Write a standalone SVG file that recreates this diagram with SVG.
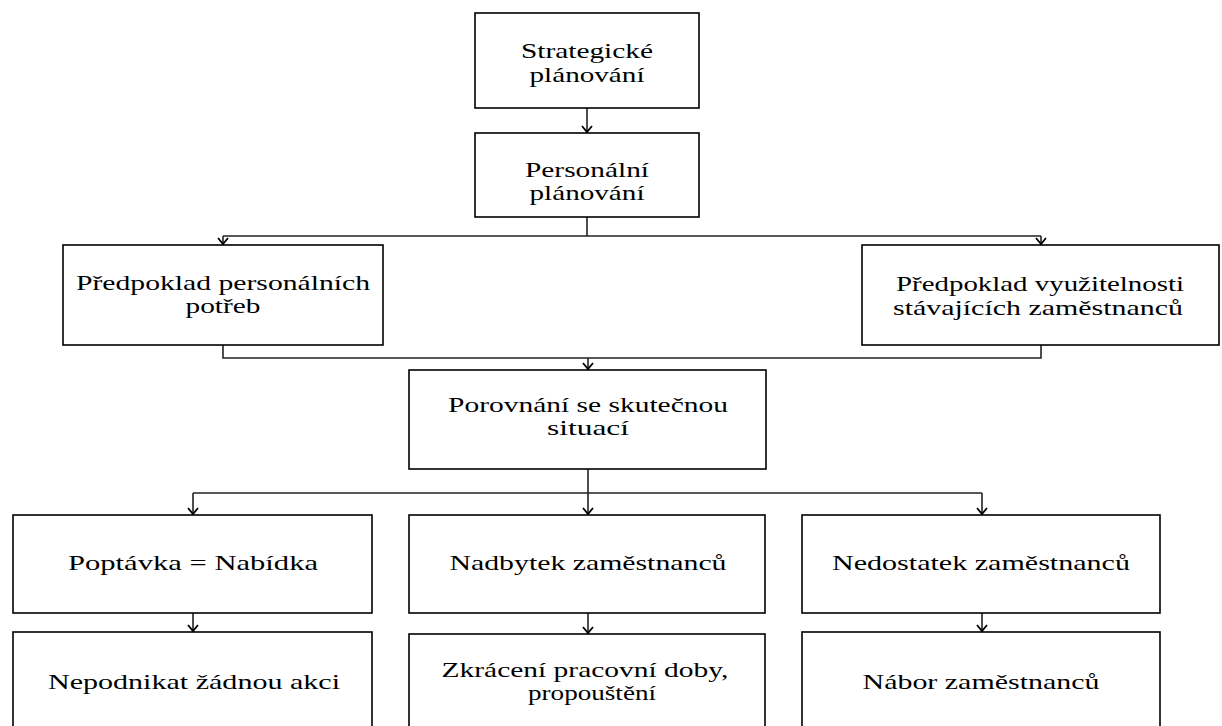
<svg xmlns="http://www.w3.org/2000/svg" width="1222" height="726" viewBox="0 0 1222 726">
  <style>
    .box { fill: #ffffff; stroke: #000000; stroke-width: 1.6; }
    .lbl { font-family: "Liberation Serif", "Times New Roman", serif; font-size: 21px; fill: #000000; text-anchor: middle; }
    .wire { fill: none; stroke: #222222; stroke-width: 1.6; }
    .head { fill: none; stroke: #000000; stroke-width: 1.8; }
  </style>

  <rect width="1222" height="726" fill="#ffffff"/>

  <!-- connectors: orthogonal runs between the boxes, with open chevron heads -->
  <g id="connectors">
    <path class="wire" d="M587 108 V133"/>
    <path class="wire" d="M587 217 V236"/>
    <path class="wire" d="M223 236 H1041"/>
    <path class="wire" d="M223 236 V245"/>
    <path class="wire" d="M1041 236 V245"/>
    <path class="wire" d="M223 345 V358 H1041 V345"/>
    <path class="wire" d="M588 358 V370"/>
    <path class="wire" d="M588 469 V493"/>
    <path class="wire" d="M193 493 H982"/>
    <path class="wire" d="M193 493 V515"/>
    <path class="wire" d="M588 493 V515"/>
    <path class="wire" d="M982 493 V515"/>
    <path class="wire" d="M193 613 V632"/>
    <path class="wire" d="M588 613 V634"/>
    <path class="wire" d="M982 613 V632"/>
    <g class="head">
      <path d="M582 126 L587 132 L592 126"/>
      <path d="M218 238 L223 244 L228 238"/>
      <path d="M1036 238 L1041 244 L1046 238"/>
      <path d="M583 363 L588 369 L593 363"/>
      <path d="M188 508 L193 514 L198 508"/>
      <path d="M583 508 L588 514 L593 508"/>
      <path d="M977 508 L982 514 L987 508"/>
      <path d="M188 625 L193 631 L198 625"/>
      <path d="M583 627 L588 633 L593 627"/>
      <path d="M977 625 L982 631 L987 625"/>
    </g>
  </g>

  <g id="strategicke">
    <rect class="box" x="475" y="13" width="224" height="95"/>
    <text class="lbl" x="587" y="58" textLength="132" lengthAdjust="spacingAndGlyphs">Strategické</text>
    <text class="lbl" x="587" y="82" textLength="115" lengthAdjust="spacingAndGlyphs">plánování</text>
  </g>

  <g id="personalni">
    <rect class="box" x="475" y="133" width="224" height="84"/>
    <text class="lbl" x="587" y="177" textLength="124" lengthAdjust="spacingAndGlyphs">Personální</text>
    <text class="lbl" x="587" y="200" textLength="115" lengthAdjust="spacingAndGlyphs">plánování</text>
  </g>

  <g id="predpoklad-potreb">
    <rect class="box" x="63" y="245" width="320" height="100"/>
    <text class="lbl" x="223" y="290" textLength="294" lengthAdjust="spacingAndGlyphs">Předpoklad personálních</text>
    <text class="lbl" x="223" y="313" textLength="75" lengthAdjust="spacingAndGlyphs">potřeb</text>
  </g>

  <g id="predpoklad-vyuzitelnosti">
    <rect class="box" x="862" y="245" width="357" height="100"/>
    <text class="lbl" x="1040" y="291" textLength="288" lengthAdjust="spacingAndGlyphs">Předpoklad využitelnosti</text>
    <text class="lbl" x="1038" y="315" textLength="290" lengthAdjust="spacingAndGlyphs">stávajících zaměstnanců</text>
  </g>

  <g id="porovnani">
    <rect class="box" x="409" y="370" width="357" height="99"/>
    <text class="lbl" x="588" y="412" textLength="280" lengthAdjust="spacingAndGlyphs">Porovnání se skutečnou</text>
    <text class="lbl" x="588" y="435" textLength="82" lengthAdjust="spacingAndGlyphs">situací</text>
  </g>

  <g id="poptavka">
    <rect class="box" x="13" y="515" width="359" height="98"/>
    <text class="lbl" x="193" y="570" textLength="250" lengthAdjust="spacingAndGlyphs">Poptávka = Nabídka</text>
  </g>

  <g id="nadbytek">
    <rect class="box" x="409" y="515" width="356" height="98"/>
    <text class="lbl" x="588" y="570" textLength="277" lengthAdjust="spacingAndGlyphs">Nadbytek zaměstnanců</text>
  </g>

  <g id="nedostatek">
    <rect class="box" x="802" y="515" width="358" height="98"/>
    <text class="lbl" x="981" y="570" textLength="298" lengthAdjust="spacingAndGlyphs">Nedostatek zaměstnanců</text>
  </g>

  <g id="nepodnikat">
    <rect class="box" x="13" y="632" width="359" height="110"/>
    <text class="lbl" x="194" y="689" textLength="292" lengthAdjust="spacingAndGlyphs">Nepodnikat žádnou akci</text>
  </g>

  <g id="zkraceni">
    <rect class="box" x="409" y="634" width="356" height="108"/>
    <text class="lbl" x="585" y="677" textLength="287" lengthAdjust="spacingAndGlyphs">Zkrácení pracovní doby,</text>
    <text class="lbl" x="592" y="700" textLength="128" lengthAdjust="spacingAndGlyphs">propouštění</text>
  </g>

  <g id="nabor">
    <rect class="box" x="802" y="632" width="358" height="110"/>
    <text class="lbl" x="981" y="689" textLength="237" lengthAdjust="spacingAndGlyphs">Nábor zaměstnanců</text>
  </g>
</svg>
